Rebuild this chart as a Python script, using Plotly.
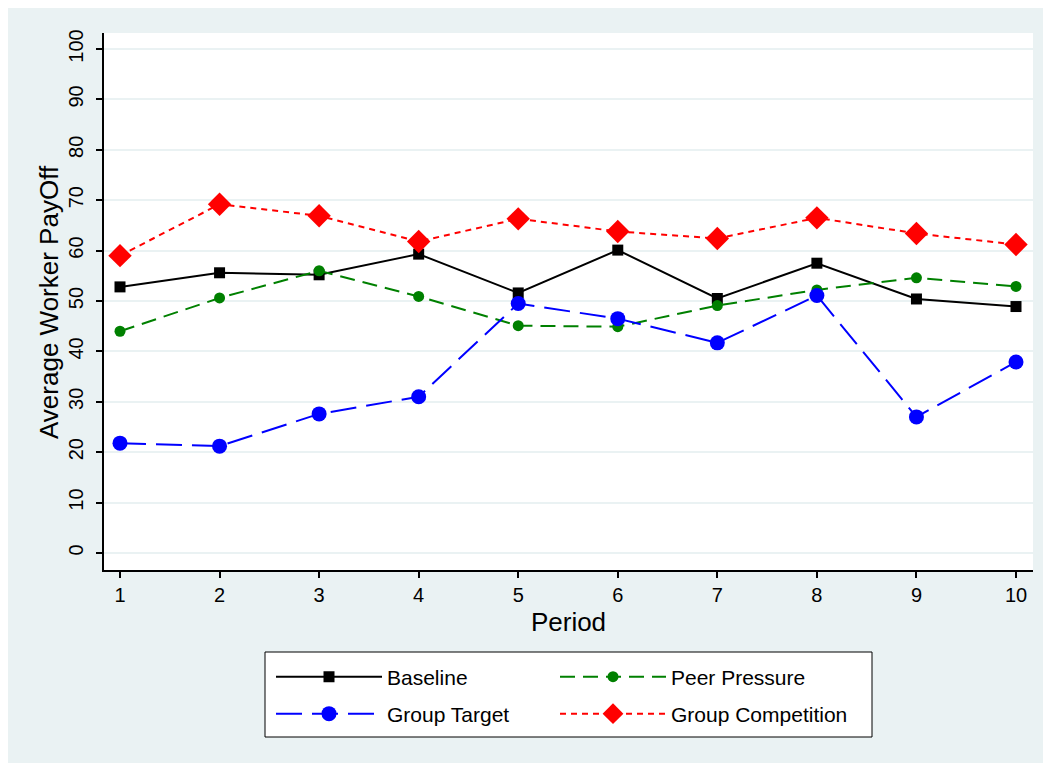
import plotly.graph_objects as go

periods = [1, 2, 3, 4, 5, 6, 7, 8, 9, 10]
baseline = [52.8, 55.6, 55.2, 59.3, 51.6, 60.1, 50.5, 57.5, 50.4, 48.9]
peer_pressure = [44.0, 50.6, 56.0, 50.9, 45.1, 44.9, 49.1, 52.2, 54.6, 52.9]
group_target = [21.8, 21.2, 27.6, 31.0, 49.5, 46.5, 41.7, 51.1, 27.0, 37.9]
group_competition = [59.0, 69.2, 66.9, 61.8, 66.3, 63.8, 62.4, 66.5, 63.4, 61.2]
y_ticks = [0, 10, 20, 30, 40, 50, 60, 70, 80, 90, 100]

BG = "#EAF2F3"
FONT = "Liberation Sans, Arial, sans-serif"

fig = go.Figure()
fig.add_trace(go.Scatter(x=periods, y=baseline, name="Baseline", mode="lines+markers",
                         line=dict(color="black", width=2),
                         marker=dict(symbol="square", size=11, color="black"),
                         legend="legend"))
fig.add_trace(go.Scatter(x=periods, y=peer_pressure, name="Peer Pressure", mode="lines+markers",
                         line=dict(color="#008000", width=2, dash="15px,8px"),
                         marker=dict(symbol="circle", size=11, color="#008000"),
                         legend="legend2"))
fig.add_trace(go.Scatter(x=periods, y=group_target, name="Group Target", mode="lines+markers",
                         line=dict(color="#0000FF", width=2, dash="26px,10px"),
                         marker=dict(symbol="circle", size=15, color="#0000FF"),
                         legend="legend3"))
fig.add_trace(go.Scatter(x=periods, y=group_competition, name="Group Competition", mode="lines+markers",
                         line=dict(color="#FF0000", width=2, dash="6px,5px"),
                         marker=dict(symbol="diamond", size=18, color="#FF0000"),
                         legend="legend4"))

# page offset of the figure (browser body margin)
OFF = 8
W, H = 1051 - OFF, 767 - OFF
L, R, T, B = 104 - OFF, 18, 33 - OFF, 767 - 570
pw, ph = W - L - R, H - T - B

def px(x):
    # page x -> paper coordinate
    return (x - OFF - L) / pw

def py(y):
    # page y -> paper coordinate
    return (H + OFF - B - y) / ph

shapes = [
    dict(type="rect", xref="paper", yref="paper", x0=px(0), x1=px(1060), y0=py(775), y1=py(763),
         fillcolor="white", line=dict(width=0), layer="above"),
    # legend box
    dict(type="rect", xref="paper", yref="paper", x0=px(265), x1=px(872), y0=py(737), y1=py(652),
         fillcolor="white", line=dict(color="black", width=1), layer="below"),
]

legend_common = dict(orientation="h", xanchor="left", yanchor="middle",
                     font=dict(family=FONT, size=21, color="black"),
                     bgcolor="rgba(0,0,0,0)", borderwidth=0,
                     itemwidth=106,
                     itemclick=False, itemdoubleclick=False)

col1, col2 = 271, 555
row1, row2 = 677, 714

fig.update_layout(
    width=W, height=H,
    margin=dict(l=L, r=R, t=T, b=B),
    paper_bgcolor=BG, plot_bgcolor="white",
    font=dict(family=FONT, color="black"),
    showlegend=True,
    legend=dict(x=px(col1), y=py(row1), **legend_common),
    legend2=dict(x=px(col2), y=py(row1), **legend_common),
    legend3=dict(x=px(col1), y=py(row2), **legend_common),
    legend4=dict(x=px(col2), y=py(row2), **legend_common),
    shapes=shapes,
    annotations=[
        dict(text="Average Worker PayOff", xref="paper", yref="paper",
             x=px(49), y=py(302), xanchor="center", yanchor="middle",
             textangle=-90, showarrow=False,
             font=dict(family=FONT, size=26, color="black")),
    ],
    xaxis=dict(
        range=[1 - 16 / 99.56, 10 + 17 / 99.56],
        tickmode="array", tickvals=periods, ticktext=[str(p) for p in periods],
        ticks="outside", ticklen=6, tickwidth=1.5, tickcolor="black",
        showline=True, linecolor="black", linewidth=1.5,
        showgrid=False, zeroline=False,
        tickfont=dict(family=FONT, size=20, color="black"),
        title=dict(text="Period", font=dict(family=FONT, size=26, color="black"), standoff=8),
    ),
    yaxis=dict(
        range=[-(570 - 553) / 5.04, (553 - 33) / 5.04],
        tickmode="array", tickvals=y_ticks, ticktext=[str(v) for v in y_ticks],
        ticks="outside", ticklen=6, tickwidth=1.5, tickcolor="black",
        tickangle=-90, ticklabelstandoff=5,
        showline=True, linecolor="black", linewidth=1.5,
        showgrid=True, gridcolor=BG, gridwidth=2, zeroline=False,
        tickfont=dict(family=FONT, size=20, color="black"),
    ),
)

fig.write_html("out.html")
